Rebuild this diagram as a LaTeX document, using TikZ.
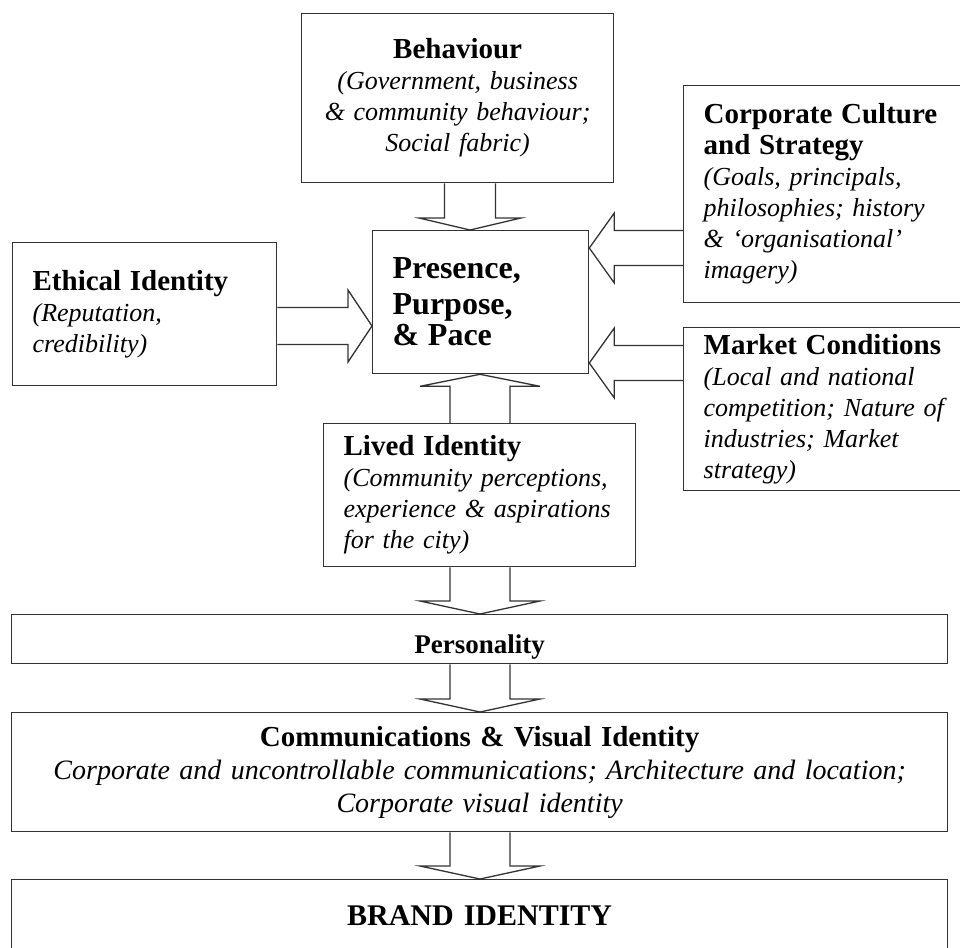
\documentclass[tikz,border=0pt]{standalone}
\usepackage{fontspec}
\setmainfont{Liberation Serif}
\usetikzlibrary{calc}

\newcommand{\hd}{\fontsize{29}{31}\selectfont\bfseries\upshape}
\newcommand{\bighd}{\fontsize{32}{36}\selectfont\bfseries\upshape}

% outline block arrow: start, tip, shaft half width, head half width, head length
\newcommand{\blockarrow}[5]{%
  \coordinate (ba) at ($(#2)!#5!(#1)$);
  \draw[blockline] ($(#1)!#3!90:(#2)$) -- ($(ba)!#3!90:(#2)$) -- ($(ba)!#4!90:(#2)$) -- (#2)
    -- ($(ba)!#4!-90:(#2)$) -- ($(ba)!#3!-90:(#2)$) -- ($(#1)!#3!-90:(#2)$);
}

\begin{document}
\begin{tikzpicture}[x=1pt,y=-1pt]
\tikzset{box/.style={draw=black!80, line width=1.3pt, fill=white, anchor=north west,
    inner xsep=20pt, inner ysep=4pt, font=\fontsize{26}{31}\selectfont\itshape}}
\tikzset{blockline/.style={draw=black!80, line width=1.3pt, line join=miter}}
\useasboundingbox[fill=white] (0,0) rectangle (960,947);

% source boxes
\node[box, minimum width=312pt, minimum height=169pt, text width=272pt, align=center] (beh) at (301,13)
  {{\hd Behaviour}\\(Government, business\\\& community behaviour;\\Social fabric)};
\node[box, minimum width=264pt, minimum height=143pt, text width=224pt, align=left] (eth) at (12,242)
  {{\hd Ethical Identity}\\(Reputation,\\credibility)\\[10pt]};
\node[box, minimum width=310pt, minimum height=217pt, text width=270pt, align=left] (corp) at (683,85)
  {{\hd Corporate Culture\\and Strategy}\\(Goals, principals,\\philosophies; history\\\& ‘organisational’\\imagery)};
\node[box, minimum width=310pt, minimum height=163pt, text width=270pt, align=left] (mkt) at (683,327)
  {{\hd Market Conditions}\\(Local and national\\competition; Nature of\\industries; Market\\strategy)};
\node[box, minimum width=216pt, minimum height=143pt, text width=176pt, align=left] (pres) at (372,230)
  {{\bighd Presence,\\Purpose,\\\& Pace}\\[6pt]};
\node[box, minimum width=312pt, minimum height=143pt, text width=272pt, align=left] (lived) at (323,423)
  {{\hd Lived Identity}\\(Community perceptions,\\experience \& aspirations\\for the city)};

% the chain below
\node[box, minimum width=936pt, text width=896pt, align=center, text height=35pt, text depth=6pt,
  font=\fontsize{27}{31}\selectfont\bfseries] (pers) at (11,614) {Personality};
\node[box, minimum width=936pt, minimum height=119pt, text width=896pt, align=center,
  font=\fontsize{28}{33}\selectfont\itshape] (comm) at (11,712)
  {{\hd Communications \& Visual Identity}\\Corporate and uncontrollable communications; Architecture and location;\\Corporate visual identity};
\node[box, minimum width=936pt, text width=896pt, align=center, text height=42pt, text depth=50pt,
  font=\fontsize{30}{34}\selectfont\bfseries] (brand) at (11,879) {BRAND IDENTITY};

% arrows
\coordinate (b1) at (beh.south -| 470,0);  \coordinate (p1) at (pres.north -| 470,0);
\coordinate (e1) at (eth.east |- 0,326);   \coordinate (p2) at (pres.west |- 0,326);
\coordinate (c1) at (corp.west |- 0,248);  \coordinate (p3) at (pres.east |- 0,248);
\coordinate (m1) at (mkt.west |- 0,363);   \coordinate (p4) at (pres.east |- 0,363);
\coordinate (l1) at (lived.north -| 480,0); \coordinate (p5) at (pres.south -| 480,0);
\blockarrow{b1}{p1}{25.5pt}{51pt}{12pt}
\blockarrow{e1}{p2}{18.5pt}{36pt}{24pt}
\blockarrow{c1}{p3}{17.5pt}{35pt}{25pt}
\blockarrow{m1}{p4}{17.5pt}{35pt}{25pt}
\blockarrow{l1}{p5}{30pt}{60pt}{12pt}

\coordinate (l2) at (lived.south -| 480,0); \coordinate (r1) at (pers.north -| 480,0);
\coordinate (r2) at (pers.south -| 480,0);  \coordinate (k1) at (comm.north -| 480,0);
\coordinate (k2) at (comm.south -| 480,0);  \coordinate (d1) at (brand.north -| 480,0);
\blockarrow{l2}{r1}{30pt}{60pt}{13pt}
\blockarrow{r2}{k1}{30pt}{60pt}{13pt}
\blockarrow{k2}{d1}{30pt}{60pt}{13pt}
\end{tikzpicture}
\end{document}
